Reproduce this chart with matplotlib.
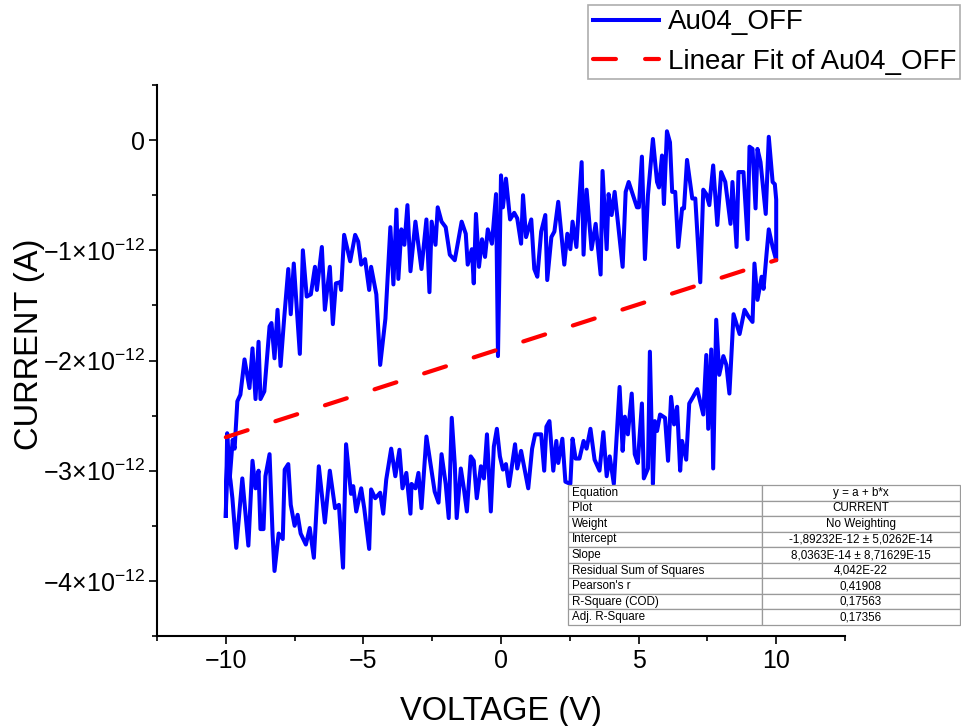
import numpy as np
import matplotlib
matplotlib.use("Agg")
import matplotlib.pyplot as plt
from matplotlib.ticker import FuncFormatter, MultipleLocator

plt.rcParams['font.family'] = ['Liberation Sans', 'DejaVu Sans']
plt.rcParams['mathtext.fontset'] = 'custom'
plt.rcParams['mathtext.rm'] = 'Liberation Sans'
plt.rcParams['mathtext.it'] = 'Liberation Sans:italic'

# upper branch, sweep -10 V -> +10 V (current in units of 1e-12 A)
upper_v = [-10.0, -9.95, -9.85, -9.75, -9.68, -9.58, -9.47, -9.32, -9.14, -9.03,
           -8.92, -8.81, -8.74, -8.60, -8.41, -8.34, -8.23, -8.12, -8.01, -7.88,
           -7.73, -7.64, -7.53, -7.31, -7.20, -7.06, -6.91, -6.76, -6.69, -6.51,
           -6.40, -6.22, -6.11, -6.00, -5.85, -5.81, -5.70, -5.48, -5.30, -5.19,
           -5.08, -4.94, -4.79, -4.72, -4.53, -4.39, -4.20, -4.02, -3.91, -3.80,
           -3.73, -3.62, -3.51, -3.40, -3.29, -3.11, -2.89, -2.71, -2.60, -2.52,
           -2.38, -2.30, -2.16, -2.01, -1.86, -1.68, -1.43, -1.28, -1.21, -1.06,
           -0.99, -0.91, -0.80, -0.69, -0.58, -0.48, -0.33, -0.18, -0.11, 0.00,
           0.07, 0.18, 0.33, 0.48, 0.59, 0.73, 0.80, 0.91, 1.10, 1.21,
           1.32, 1.46, 1.61, 1.68, 1.83, 1.94, 2.08, 2.30, 2.41, 2.52,
           2.60, 2.74, 2.93, 3.00, 3.11, 3.29, 3.44, 3.62, 3.69, 3.84,
           3.91, 4.02, 4.13, 4.42, 4.53, 4.64, 4.94, 5.01, 5.12, 5.23,
           5.34, 5.52, 5.67, 5.74, 5.85, 5.92, 6.03, 6.14, 6.22, 6.33,
           6.44, 6.58, 6.65, 6.76, 6.95, 7.06, 7.24, 7.35, 7.46, 7.57,
           7.71, 7.86, 8.00, 8.15, 8.34, 8.41, 8.56, 8.63, 8.81, 8.96,
           9.03, 9.14, 9.25, 9.32, 9.43, 9.62, 9.73, 9.87, 9.95, 10.0]
upper_i = [-3.41, -2.66, -3.05, -2.72, -2.80, -2.37, -2.31, -1.99, -2.25, -1.89,
           -2.35, -1.83, -2.35, -2.28, -1.69, -1.66, -1.98, -1.54, -2.05, -1.62,
           -1.17, -1.58, -1.12, -1.94, -1.00, -1.42, -1.40, -1.15, -1.36, -0.97,
           -1.54, -1.15, -1.67, -1.30, -1.29, -1.36, -0.86, -1.10, -0.86, -0.92,
           -1.13, -1.08, -1.36, -1.15, -1.40, -2.04, -1.62, -0.79, -1.31, -0.63,
           -1.26, -0.81, -0.95, -0.59, -1.19, -0.74, -1.17, -0.72, -1.38, -0.74,
           -0.95, -0.61, -0.74, -0.79, -1.04, -1.09, -0.74, -0.85, -1.13, -0.99,
           -1.30, -0.67, -1.15, -0.90, -1.06, -0.81, -0.94, -0.49, -1.96, -0.32,
           -0.61, -0.35, -0.72, -0.66, -0.71, -0.94, -0.50, -0.88, -0.72, -1.17,
           -1.24, -0.83, -0.68, -1.27, -0.88, -0.83, -0.56, -1.13, -0.85, -0.99,
           -0.74, -0.97, -0.20, -1.04, -0.45, -0.99, -0.76, -1.22, -0.28, -0.99,
           -0.49, -0.68, -0.47, -1.15, -0.47, -0.38, -0.61, -0.61, -0.15, -1.08,
           -0.50, 0.01, -0.38, -0.43, -0.14, -0.58, 0.08, -0.02, -0.47, -0.47,
           -0.97, -0.62, -0.62, -0.18, -0.53, -0.53, -1.29, -0.45, -0.49, -0.59,
           -0.23, -0.77, -0.29, -0.38, -0.76, -0.38, -0.97, -0.29, -0.29, -0.90,
           -0.06, -0.08, -0.62, -0.08, -0.20, -0.67, 0.03, -0.38, -0.40, -0.54]

# lower branch, sweep +10 V -> -10 V
lower_v = [10.0, 9.87, 9.73, 9.65, 9.54, 9.47, 9.32, 9.21, 9.14, 8.99,
           8.85, 8.67, 8.45, 8.30, 8.19, 8.08, 7.93, 7.82, 7.71, 7.64,
           7.53, 7.46, 7.35, 7.13, 6.98, 6.84, 6.73, 6.58, 6.51, 6.40,
           6.29, 6.18, 6.07, 5.96, 5.78, 5.67, 5.59, 5.52, 5.41, 5.34,
           5.19, 5.12, 4.97, 4.86, 4.75, 4.61, 4.50, 4.42, 4.31, 4.10,
           3.95, 3.84, 3.72, 3.58, 3.40, 3.25, 3.11, 3.00, 2.85, 2.71,
           2.60, 2.52, 2.34, 2.23, 2.08, 2.01, 1.90, 1.76, 1.65, 1.57,
           1.46, 1.24, 1.13, 0.99, 0.80, 0.73, 0.59, 0.51, 0.29, 0.18,
           0.07, -0.04, -0.15, -0.26, -0.37, -0.51, -0.62, -0.73, -0.88, -0.99,
           -1.10, -1.24, -1.35, -1.46, -1.61, -1.68, -1.79, -1.90, -2.01, -2.16,
           -2.27, -2.41, -2.71, -2.89, -3.00, -3.11, -3.25, -3.29, -3.44, -3.58,
           -3.69, -3.84, -3.99, -4.17, -4.28, -4.39, -4.57, -4.72, -4.79, -4.97,
           -5.08, -5.26, -5.37, -5.45, -5.63, -5.74, -5.89, -6.03, -6.22, -6.40,
           -6.62, -6.80, -6.95, -7.09, -7.28, -7.39, -7.50, -7.64, -7.73, -7.86,
           -7.93, -8.08, -8.23, -8.30, -8.41, -8.56, -8.63, -8.74, -8.81, -8.92,
           -9.03, -9.18, -9.40, -9.62, -9.76, -9.83, -9.95, -10.0]
lower_i = [-1.09, -0.97, -0.81, -1.03, -1.35, -1.24, -1.45, -1.12, -1.65, -1.60,
           -1.54, -1.76, -1.58, -2.30, -2.04, -1.96, -2.13, -1.63, -2.98, -1.90,
           -2.62, -1.95, -2.49, -2.26, -2.33, -2.39, -2.90, -2.73, -3.00, -2.42,
           -2.58, -2.33, -2.91, -2.52, -2.49, -2.64, -2.55, -3.12, -1.92, -2.98,
           -3.07, -2.39, -2.93, -2.85, -2.30, -2.67, -2.51, -2.82, -2.24, -3.12,
           -2.87, -3.05, -2.65, -3.00, -2.90, -2.62, -2.80, -2.73, -2.89, -2.89,
           -2.71, -3.12, -3.10, -2.71, -2.93, -2.73, -3.00, -2.55, -2.60, -3.00,
           -2.67, -2.67, -2.80, -3.16, -2.91, -2.82, -2.98, -2.76, -3.14, -2.94,
           -2.99, -2.87, -2.62, -2.78, -3.37, -2.67, -3.07, -2.96, -3.25, -2.91,
           -2.87, -3.37, -3.16, -2.98, -3.43, -2.94, -2.52, -3.43, -3.12, -2.85,
           -3.29, -3.19, -2.69, -3.34, -3.02, -3.16, -3.12, -3.39, -3.02, -3.16,
           -2.81, -3.05, -2.80, -3.08, -3.39, -3.20, -3.25, -3.17, -3.71, -3.34,
           -3.16, -3.37, -3.14, -3.21, -2.76, -3.88, -3.31, -3.34, -3.00, -3.47,
           -2.96, -3.79, -3.52, -3.67, -3.57, -3.40, -3.50, -3.31, -2.94, -2.99,
           -3.62, -3.57, -3.91, -3.58, -2.85, -3.05, -3.53, -3.53, -3.00, -3.16,
           -2.91, -3.68, -3.07, -3.70, -3.25, -3.09, -2.90, -3.41]

# linear fit parameters
fit_a = -1.89232e-12
fit_b = 8.0363e-14
fit_x = [-10, 10]

table_rows = [
    ["Equation", "y = a + b*x"],
    ["Plot", "CURRENT"],
    ["Weight", "No Weighting"],
    ["Intercept", "-1,89232E-12 \u00b1 5,0262E-14"],
    ["Slope", "8,0363E-14 \u00b1 8,71629E-15"],
    ["Residual Sum of Squares", "4,042E-22"],
    ["Pearson's r", "0,41908"],
    ["R-Square (COD)", "0,17563"],
    ["Adj. R-Square", "0,17356"],
]

voltage = np.array(upper_v + lower_v)
current = np.array(upper_i + lower_i) * 1e-12
fx = np.array(fit_x, dtype=float)
fy = fit_a + fit_b * fx

fig = plt.figure(figsize=(9.62, 7.26), dpi=100)
ax = fig.add_axes([157 / 962, 90 / 726, 688 / 962, 551 / 726])

ax.plot(voltage, current, color='#0000ff', lw=2.9, label='Au04_OFF', zorder=2)
ax.plot(fx, fy, color='#ff0000', lw=3, dashes=(5.5, 7), dash_capstyle='round',
        label='Linear Fit of Au04_OFF', zorder=3)

ax.set_xlim(-12.5, 12.5)
ax.set_ylim(-4.5e-12, 0.5e-12)
ax.xaxis.set_major_locator(MultipleLocator(5))
ax.xaxis.set_minor_locator(MultipleLocator(2.5))
ax.yaxis.set_major_locator(MultipleLocator(1e-12))
ax.yaxis.set_minor_locator(MultipleLocator(0.5e-12))


def yfmt(v, pos):
    n = int(round(v / 1e-12))
    if n == 0:
        return "0"
    return r"$%d{\times}10^{-12}$" % n


ax.yaxis.set_major_formatter(FuncFormatter(yfmt))
ax.xaxis.set_major_formatter(FuncFormatter(lambda v, p: "%d" % v if v >= 0 else "\u2212%d" % -v))

for s in ['top', 'right']:
    ax.spines[s].set_visible(False)
for s in ['left', 'bottom']:
    ax.spines[s].set_linewidth(1.5)
ax.tick_params(which='major', direction='out', length=6, width=1.2, labelsize=18, pad=3)
ax.tick_params(which='minor', direction='out', length=3.5, width=1.2)

ax.set_xlabel("VOLTAGE (V)", fontsize=23.5, labelpad=17)
ax.set_ylabel("CURRENT (A)", fontsize=23.5)
ax.yaxis.set_label_coords(-0.163, 0.53)

leg = fig.legend(loc='upper right', bbox_to_anchor=(0.998, 0.993), fontsize=20,
                 frameon=True, fancybox=False, edgecolor='#999999', borderaxespad=0,
                 borderpad=0.15, labelspacing=0.5, handlelength=2.4, handletextpad=0.3)
leg.get_frame().set_linewidth(1.2)

tax = fig.add_axes([568 / 962, 101 / 726, 392 / 962, 140 / 726])
tax.axis('off')
tbl = tax.table(cellText=table_rows, bbox=[0, 0, 1, 1], colWidths=[0.494, 0.506],
                cellLoc='center')
tbl.auto_set_font_size(False)
tbl.set_fontsize(8.4)
for (r, c), cell in tbl.get_celld().items():
    cell.set_edgecolor('#9a9a9a')
    cell.set_linewidth(0.9)
    if c == 0:
        cell.set_text_props(ha='left')
        cell.PAD = 0.02

fig.savefig("out.png", dpi=100)
